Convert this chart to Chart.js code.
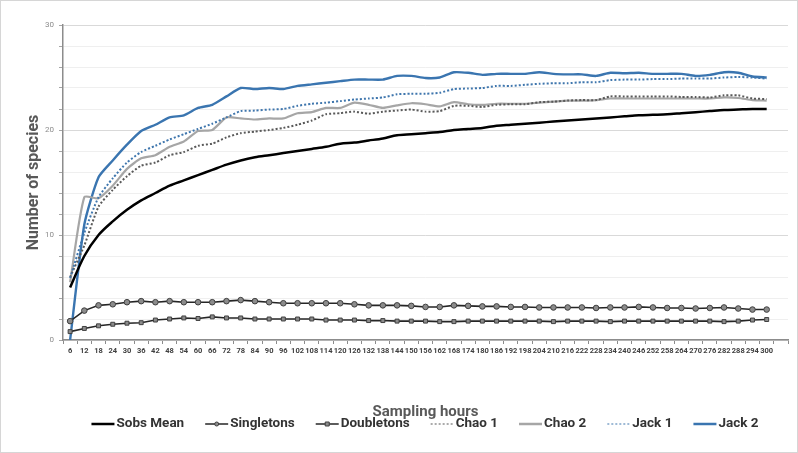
<!DOCTYPE html>
<html>
<head>
<meta charset="utf-8">
<script src="https://cdn.jsdelivr.net/npm/chart.js@4/dist/chart.umd.min.js"></script>
<style>
  html, body { margin: 0; padding: 0; background: #fff; }
  #wrap { width: 798px; height: 453px; position: relative; }
</style>
</head>
<body>
<div id="wrap"><canvas id="chart"></canvas></div>
<script>
const hours = [6, 12, 18, 24, 30, 36, 42, 48, 54, 60, 66, 72, 78, 84, 90, 96, 102, 108, 114, 120,
  126, 132, 138, 144, 150, 156, 162, 168, 174, 180, 186, 192, 198, 204, 210, 216, 222, 228, 234, 240,
  246, 252, 258, 264, 270, 276, 282, 288, 294, 300];

const sobsMean = [5.0, 8.0, 10.0, 11.3, 12.4, 13.3, 14.0, 14.7, 15.2, 15.7, 16.2, 16.7, 17.1, 17.4, 17.6, 17.8, 18.0, 18.2, 18.4, 18.7,
  18.8, 19.0, 19.2, 19.5, 19.6, 19.7, 19.8, 20.0, 20.1, 20.2, 20.4, 20.5, 20.6, 20.7, 20.8, 20.9, 21.0, 21.1, 21.2, 21.3,
  21.4, 21.45, 21.5, 21.6, 21.7, 21.8, 21.9, 21.95, 22.0, 22.0];

const singletons = [1.8, 2.8, 3.3, 3.4, 3.6, 3.7, 3.6, 3.7, 3.6, 3.6, 3.6, 3.7, 3.8, 3.7, 3.6, 3.5, 3.5, 3.5, 3.5, 3.5,
  3.4, 3.3, 3.3, 3.3, 3.25, 3.15, 3.15, 3.3, 3.25, 3.2, 3.2, 3.15, 3.15, 3.1, 3.1, 3.1, 3.1, 3.05, 3.1, 3.1,
  3.15, 3.1, 3.05, 3.05, 3.0, 3.05, 3.1, 3.0, 2.9, 2.9];

const doubletons = [0.8, 1.1, 1.35, 1.5, 1.6, 1.65, 1.9, 2.0, 2.1, 2.05, 2.2, 2.1, 2.1, 2.0, 2.0, 2.0, 2.0, 2.0, 1.9, 1.9,
  1.9, 1.85, 1.85, 1.8, 1.8, 1.8, 1.75, 1.75, 1.8, 1.8, 1.8, 1.8, 1.8, 1.8, 1.75, 1.8, 1.8, 1.8, 1.75, 1.8,
  1.8, 1.8, 1.8, 1.8, 1.8, 1.8, 1.75, 1.8, 1.9, 1.95];

const chao1 = [6.0, 9.0, 12.7, 14.3, 15.6, 16.6, 16.9, 17.6, 17.9, 18.5, 18.7, 19.3, 19.7, 19.85, 20.0, 20.2, 20.5, 20.9, 21.5, 21.6,
  21.75, 21.55, 21.75, 21.85, 21.95, 21.75, 21.8, 22.3, 22.3, 22.2, 22.4, 22.45, 22.45, 22.65, 22.7, 22.8, 22.85, 22.85, 23.2, 23.2,
  23.2, 23.2, 23.2, 23.15, 23.15, 23.1, 23.3, 23.3, 23.0, 22.95];

const chao2 = [5.5, 13.6, 13.5, 14.7, 16.3, 17.3, 17.6, 18.4, 18.9, 19.9, 20.0, 21.2, 21.1, 21.0, 21.1, 21.1, 21.6, 21.7, 22.1, 22.1,
  22.6, 22.4, 22.1, 22.35, 22.55, 22.45, 22.25, 22.65, 22.45, 22.4, 22.5, 22.5, 22.5, 22.6, 22.7, 22.8, 22.8, 22.85, 23.0, 23.0,
  23.0, 23.0, 23.0, 23.0, 23.0, 23.0, 23.1, 23.05, 22.85, 22.8];

const jack1 = [5.9, 10.2, 13.6, 15.4, 16.9, 17.9, 18.5, 19.1, 19.6, 20.1, 20.6, 21.2, 21.8, 21.85, 21.95, 22.0, 22.3, 22.5, 22.6, 22.75,
  22.9, 23.0, 23.1, 23.4, 23.45, 23.45, 23.55, 23.9, 23.95, 24.0, 24.2, 24.2, 24.3, 24.4, 24.45, 24.45, 24.55, 24.55, 24.75, 24.8,
  24.8, 24.85, 24.85, 24.9, 24.9, 24.9, 25.0, 25.05, 25.0, 24.9];

const jack2 = [0.0, 11.0, 15.5, 17.1, 18.6, 19.9, 20.5, 21.2, 21.4, 22.1, 22.4, 23.2, 24.0, 23.9, 24.0, 23.9, 24.2, 24.35, 24.5, 24.65,
  24.8, 24.8, 24.8, 25.15, 25.15, 24.95, 25.0, 25.5, 25.45, 25.25, 25.35, 25.35, 25.35, 25.5, 25.35, 25.3, 25.3, 25.15, 25.45, 25.4,
  25.45, 25.35, 25.35, 25.35, 25.15, 25.25, 25.5, 25.45, 25.1, 25.0];

const yMax = 30;

// one empty slot after 300, the axis runs on a bit past the last label
const labels = hours.map(String).concat(['']);

const FONT = 'Roboto, "DejaVu Sans", sans-serif';

const frame = {
  id: 'frame',
  beforeDraw(chart) {
    const c = chart.ctx;
    c.save();
    c.fillStyle = '#fff';
    c.fillRect(0, 0, chart.width, chart.height);
    c.strokeStyle = '#d6d6d6';
    c.lineWidth = 1;
    c.strokeRect(0.5, 0.5, chart.width - 1, chart.height - 1);
    c.restore();
  }
};

// legend drawn by hand so the marker sits on the sample line
const lineLegend = {
  id: 'lineLegend',
  afterDraw(chart) {
    const c = chart.ctx;
    const y = 424;
    c.save();
    c.font = 'bold 13.5px ' + FONT;
    c.textBaseline = 'middle';
    const items = chart.data.datasets.map(ds => ({ ds, w: 25 + c.measureText(ds.label).width }));
    const gap = 21;
    const total = items.reduce((s, it) => s + it.w, 0) + gap * (items.length - 1);
    let x = 425 - total / 2;
    items.forEach(({ ds, w }) => {
      c.strokeStyle = ds.borderColor;
      c.lineWidth = ds.legendWidth || 2.5;
      c.setLineDash(ds.borderDash || []);
      c.beginPath();
      c.moveTo(x, y);
      c.lineTo(x + 23, y);
      c.stroke();
      c.setLineDash([]);
      if (ds.pointRadius > 0) {
        c.fillStyle = ds.pointBackgroundColor;
        c.strokeStyle = ds.pointBorderColor;
        c.lineWidth = 1;
        c.beginPath();
        if (ds.pointStyle === 'rect') c.rect(x + 9.5, y - 2, 4, 4);
        else c.arc(x + 11.5, y, 2, 0, Math.PI * 2);
        c.fill();
        c.stroke();
      }
      c.fillStyle = '#333333';
      c.fillText(ds.label, x + 25, y);
      x += w + gap;
    });
    c.restore();
  }
};

new Chart(document.getElementById('chart'), {
  type: 'line',
  data: {
    labels: labels,
    datasets: [
      {
        label: 'Sobs Mean',
        data: sobsMean,
        borderColor: '#000000',
        borderWidth: 2.5,
        pointRadius: 0,
        tension: 0.3,
        order: 3
      },
      {
        label: 'Singletons',
        data: singletons,
        borderColor: '#262626',
        borderWidth: 1.6,
        pointStyle: 'circle',
        pointRadius: 2.8,
        pointBackgroundColor: '#8c8c8c',
        pointBorderColor: '#404040',
        pointBorderWidth: 1,
        legendWidth: 1.5,
        order: 1
      },
      {
        label: 'Doubletons',
        data: doubletons,
        borderColor: '#262626',
        borderWidth: 1.6,
        pointStyle: 'rect',
        pointRadius: 2.8,
        pointBackgroundColor: '#8c8c8c',
        pointBorderColor: '#404040',
        pointBorderWidth: 1,
        legendWidth: 1.5,
        order: 2
      },
      {
        label: 'Chao 1',
        data: chao1,
        borderColor: '#595959',
        borderWidth: 2,
        borderDash: [2, 2],
        pointRadius: 0,
        tension: 0.2,
        legendWidth: 1.2,
        order: 5
      },
      {
        label: 'Chao 2',
        data: chao2,
        borderColor: '#a6a6a6',
        borderWidth: 2.2,
        pointRadius: 0,
        tension: 0.2,
        order: 6
      },
      {
        label: 'Jack 1',
        data: jack1,
        borderColor: '#3f76ad',
        borderWidth: 2,
        borderDash: [2, 2],
        pointRadius: 0,
        tension: 0.2,
        legendWidth: 1.2,
        order: 4
      },
      {
        label: 'Jack 2',
        data: jack2,
        borderColor: '#3a75b0',
        borderWidth: 2.4,
        pointRadius: 0,
        tension: 0.2,
        order: 7
      }
    ]
  },
  options: {
    responsive: true,
    maintainAspectRatio: false,
    animation: false,
    layout: { padding: { top: 25, right: 10, bottom: 0, left: 0 } },
    plugins: {
      legend: { display: false },
      tooltip: { enabled: false }
    },
    scales: {
      x: {
        offset: true,
        afterFit: (scale) => { scale.height = 113; },
        border: { color: '#8c8c8c', width: 1.5 },
        grid: {
          offset: true,
          drawOnChartArea: false,
          drawTicks: true,
          tickLength: 4,
          tickColor: '#8c8c8c'
        },
        ticks: {
          autoSkip: false,
          maxRotation: 0,
          minRotation: 0,
          padding: 3,
          color: '#404040',
          font: { family: FONT, size: 7.5, weight: 'bold' }
        },
        title: {
          display: true,
          text: 'Sampling hours',
          color: '#595959',
          padding: { top: 4, bottom: 32 },
          font: { family: FONT, size: 15, weight: 'bold' }
        }
      },
      y: {
        min: 0,
        max: yMax,
        afterFit: (scale) => { scale.width = 63; },
        border: { color: '#8c8c8c', width: 1.5 },
        grid: {
          color: (ctx) => (ctx.tick && ctx.tick.value % 5 === 0 ? '#d9d9d9' : '#efefef'),
          lineWidth: 1,
          drawTicks: true,
          tickLength: 4,
          tickColor: '#a6a6a6'
        },
        ticks: {
          stepSize: 1,
          padding: 5,
          color: '#8c8c8c',
          font: { family: FONT, size: 8 },
          callback: (v) => (v % 5 === 0 ? v : '')
        },
        title: {
          display: true,
          text: 'Number of species',
          color: '#595959',
          padding: { top: 24, bottom: 0 },
          font: { family: FONT, size: 16, weight: 'bold' }
        }
      }
    }
  },
  plugins: [frame, lineLegend]
});
</script>
</body>
</html>
